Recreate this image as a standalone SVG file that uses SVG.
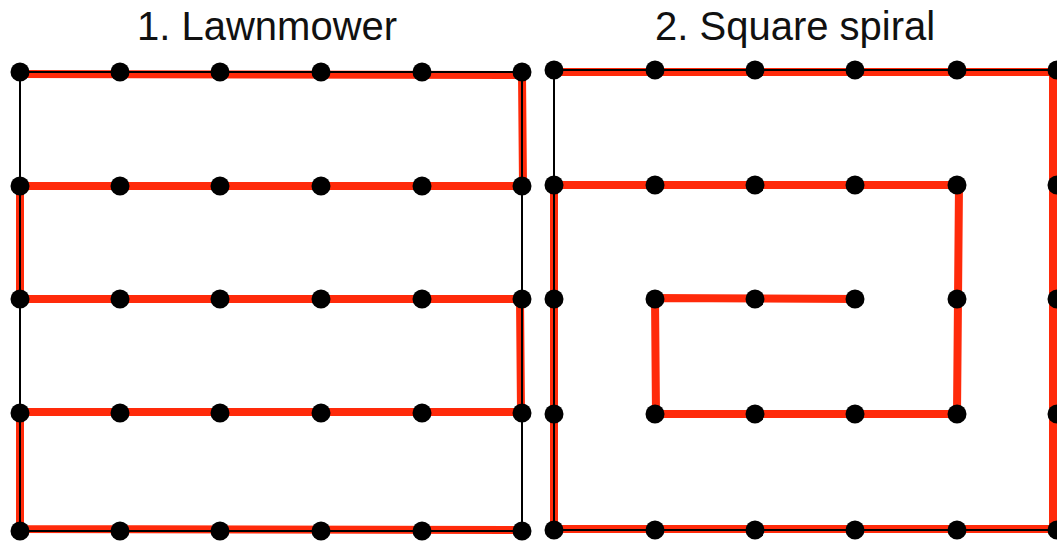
<svg xmlns="http://www.w3.org/2000/svg" width="1057" height="542" viewBox="0 0 1057 542">
  <style>
    .title { font-family: "Liberation Sans", Arial, sans-serif; font-size: 40px; fill: #111; }
    .frame { fill: none; stroke: #000; stroke-width: 2; }
    .route { fill: none; stroke: #ff2a0a; stroke-width: 8; stroke-linejoin: miter; stroke-linecap: square; }
    .dot { fill: #000; }
  </style>
  <defs>
    <circle id="pt" r="9.5" class="dot"/>
  </defs>

  <text class="title" x="137" y="40">1. Lawnmower</text>
  <text class="title" x="655" y="40">2. Square spiral</text>

  <!-- coverage routes -->
  <g id="connectors">
    <path id="lawnmower-route" class="route" d="M20,74 L522,75 L523,186 L20,186 L20,299 L520,299 L521,412 L20,412 L20,529 L522,530"/>
    <path id="spiral-route" class="route" d="M856,299 L655,298 L656,414 L957,414 L959,185 L554,185 L554,529 L1053,529 L1053,72 L554,72"/>
    <path id="lawnmower-frame" class="frame" d="M20,72 H522 V531 H20 Z"/>
    <path id="spiral-frame" class="frame" d="M1060,70 H554 V530 H1060"/>
  </g>

  <!-- panel 1: 6 x 5 grid -->
  <g id="grid-lawnmower">
    <use href="#pt" x="20" y="72"/><use href="#pt" x="120" y="72"/><use href="#pt" x="220" y="72"/><use href="#pt" x="321" y="72"/><use href="#pt" x="422" y="72"/><use href="#pt" x="522" y="72"/>
    <use href="#pt" x="20" y="186"/><use href="#pt" x="120" y="186"/><use href="#pt" x="220" y="186"/><use href="#pt" x="321" y="186"/><use href="#pt" x="422" y="186"/><use href="#pt" x="522" y="186"/>
    <use href="#pt" x="20" y="299"/><use href="#pt" x="120" y="299"/><use href="#pt" x="220" y="299"/><use href="#pt" x="321" y="299"/><use href="#pt" x="422" y="299"/><use href="#pt" x="522" y="299"/>
    <use href="#pt" x="20" y="413"/><use href="#pt" x="120" y="413"/><use href="#pt" x="220" y="413"/><use href="#pt" x="321" y="413"/><use href="#pt" x="422" y="413"/><use href="#pt" x="522" y="413"/>
    <use href="#pt" x="20" y="531"/><use href="#pt" x="120" y="531"/><use href="#pt" x="220" y="531"/><use href="#pt" x="321" y="531"/><use href="#pt" x="422" y="531"/><use href="#pt" x="522" y="531"/>
  </g>

  <!-- panel 2: 6 x 5 grid -->
  <g id="grid-spiral">
    <use href="#pt" x="554" y="70"/><use href="#pt" x="655" y="70"/><use href="#pt" x="755" y="70"/><use href="#pt" x="855" y="70"/><use href="#pt" x="957" y="70"/><use href="#pt" x="1057" y="70"/>
    <use href="#pt" x="554" y="185"/><use href="#pt" x="655" y="185"/><use href="#pt" x="755" y="185"/><use href="#pt" x="855" y="185"/><use href="#pt" x="957" y="185"/><use href="#pt" x="1057" y="185"/>
    <use href="#pt" x="554" y="299"/><use href="#pt" x="655" y="299"/><use href="#pt" x="755" y="299"/><use href="#pt" x="855" y="299"/><use href="#pt" x="957" y="299"/><use href="#pt" x="1057" y="299"/>
    <use href="#pt" x="554" y="414"/><use href="#pt" x="655" y="414"/><use href="#pt" x="755" y="414"/><use href="#pt" x="855" y="414"/><use href="#pt" x="957" y="414"/><use href="#pt" x="1057" y="414"/>
    <use href="#pt" x="554" y="530"/><use href="#pt" x="655" y="530"/><use href="#pt" x="755" y="530"/><use href="#pt" x="855" y="530"/><use href="#pt" x="957" y="530"/><use href="#pt" x="1057" y="530"/>
  </g>
</svg>
